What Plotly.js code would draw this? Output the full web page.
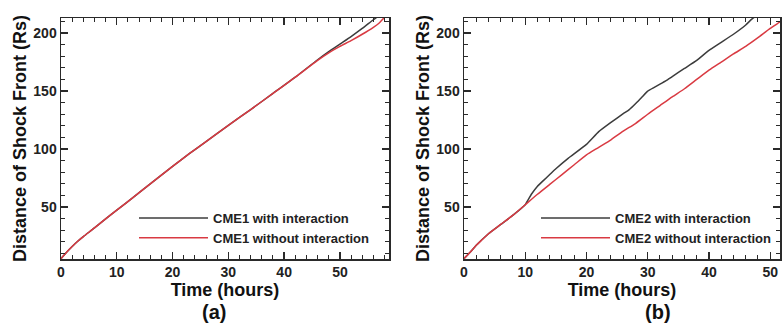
<!DOCTYPE html>
<html>
<head>
<meta charset="utf-8">
<script src="https://cdn.plot.ly/plotly-3.0.1.min.js"></script>
<style>
html, body { margin: 0; padding: 0; background: #fff; }
#chart { width: 783px; height: 327px; }
</style>
</head>
<body>
<div id="chart"></div>
<script>
// ---- Data ----
// Panel (a): CME1
const timeA_with = [0,1,2,3,4,6,8,10,13,16,20,23,26,30,34,38,42,46,48,50,52,54,56,57];
const distA_with = [5.5,11,16,20.5,24.5,32,39.8,47.3,58.5,70,85,96,106.5,120.5,134,148,162,177,184,190.5,197,204,211.5,215];
const timeA_without = [0,1,2,3,4,6,8,10,13,16,20,23,26,30,34,38,42,46,48,50,52,54,56,57,58,59];
const distA_without = [5.5,11,16,20.5,24.5,32,39.8,47.3,58.5,70,85,96,106.5,120.5,134,148,162,176.5,183,188.5,193.5,199,205,208.5,213.5,217];

// Panel (b): CME2
const timeB_with = [0,1,2,4,6,8,10,11,12,13,14,15,17,20,22,24,26,27,28,29,30,31,32,33,34,36,38,40,42,44,46,47,48];
const distB_with = [5.5,11,17,27,35,43,52,61,68,73,78,83,92,104,115,123,130.5,134,139,144.5,150,153,156,159,162.5,169.5,176.5,185,192,199,207,212,216];
const timeB_without = [0,1,2,3,4,6,8,10,12,14,16,18,20,22,24,26,28,30,32,34,36,38,40,42,44,46,48,50,52,53];
const distB_without = [5.5,11,17,22,27,35,43,52,61,69.5,78,86.5,95,101.5,108,115.5,122,130,137.5,145,152,160,168,175,182,188.5,196,204,211,215];

const namesA = ['CME1 with interaction', 'CME1 without interaction'];
const namesB = ['CME2 with interaction', 'CME2 without interaction'];
const xTitle = 'Time (hours)';
const yTitle = 'Distance of Shock Front (Rs)';
const panelLabels = ['(a)', '(b)'];

// ---- Style ----
const W = 783, H = 327;
const FONT = '"Liberation Sans", Arial, Helvetica, sans-serif';
const BLACK = '#3c3c3c';
const RED = '#d93a42';
const AXC = '#2a2a2a';

const traces = [
  {x: timeA_with, y: distA_with, name: namesA[0], type: 'scatter', mode: 'lines',
   line: {color: BLACK, width: 1.5, shape: 'spline', smoothing: 0.6}, xaxis: 'x', yaxis: 'y', legend: 'legend'},
  {x: timeA_without, y: distA_without, name: namesA[1], type: 'scatter', mode: 'lines',
   line: {color: RED, width: 1.5, shape: 'spline', smoothing: 0.6}, xaxis: 'x', yaxis: 'y', legend: 'legend'},
  {x: timeB_with, y: distB_with, name: namesB[0], type: 'scatter', mode: 'lines',
   line: {color: BLACK, width: 1.5, shape: 'spline', smoothing: 0.4}, xaxis: 'x2', yaxis: 'y2', legend: 'legend2'},
  {x: timeB_without, y: distB_without, name: namesB[1], type: 'scatter', mode: 'lines',
   line: {color: RED, width: 1.5, shape: 'spline', smoothing: 0.6}, xaxis: 'x2', yaxis: 'y2', legend: 'legend2'}
];

function px(x) { return x / W; }
function py(y) { return 1 - y / H; }

const tickFont = {family: FONT, size: 14, color: '#222', weight: 'bold'};
const titleFont = {family: FONT, size: 18, color: '#111', weight: 'bold'};

function xAxis(domain, range) {
  return {
    domain: domain, range: range,
    showgrid: false, zeroline: false,
    showline: true, linecolor: AXC, linewidth: 1.5, mirror: 'allticks',
    ticks: 'inside', ticklen: 7, tickwidth: 1.3, tickcolor: AXC,
    tick0: 0, dtick: 10,
    minor: {ticks: 'inside', ticklen: 4, tickwidth: 1, tickcolor: AXC, dtick: 2, tick0: 0},
    tickfont: tickFont,
    title: {text: xTitle, font: titleFont, standoff: 1},
    fixedrange: true
  };
}
function yAxis(domain, range) {
  return {
    domain: domain, range: range,
    showgrid: false, zeroline: false,
    showline: true, linecolor: AXC, linewidth: 1.5, mirror: 'allticks',
    ticks: 'inside', ticklen: 7, tickwidth: 1.3, tickcolor: AXC,
    tick0: 0, dtick: 50,
    minor: {ticks: 'inside', ticklen: 4, tickwidth: 1, tickcolor: AXC, dtick: 10, tick0: 0},
    tickfont: tickFont,
    title: {text: yTitle, font: titleFont, standoff: 2},
    fixedrange: true
  };
}

const xa = xAxis([px(61), px(389)], [0, 58.8]); xa.anchor = 'y';
const ya = yAxis([py(259), py(18)], [5.2, 213]); ya.anchor = 'x';
const xb = xAxis([px(464), px(780)], [0, 51.6]); xb.anchor = 'y2';
const yb = yAxis([py(259), py(18)], [5.2, 213]); yb.anchor = 'x2';

const legendFont = {family: FONT, size: 13, color: '#222', weight: 'bold'};

const layout = {
  width: W, height: H,
  margin: {l: 0, r: 0, t: 0, b: 0},
  paper_bgcolor: '#fff', plot_bgcolor: '#fff',
  showlegend: true,
  xaxis: xa, yaxis: ya, xaxis2: xb, yaxis2: yb,
  legend: {x: px(134), y: py(203), xanchor: 'left', yanchor: 'top',
           bgcolor: 'rgba(0,0,0,0)', borderwidth: 0, font: legendFont,
           itemwidth: 69, tracegroupgap: 0},
  legend2: {x: px(536), y: py(203), xanchor: 'left', yanchor: 'top',
           bgcolor: 'rgba(0,0,0,0)', borderwidth: 0, font: legendFont,
           itemwidth: 69, tracegroupgap: 0},
  annotations: [
    {text: panelLabels[0], xref: 'paper', yref: 'paper', x: px(214), y: py(312),
     xanchor: 'center', yanchor: 'middle', showarrow: false,
     font: {family: FONT, size: 20, color: '#111', weight: 'bold'}},
    {text: panelLabels[1], xref: 'paper', yref: 'paper', x: px(658), y: py(312),
     xanchor: 'center', yanchor: 'middle', showarrow: false,
     font: {family: FONT, size: 20, color: '#111', weight: 'bold'}}
  ]
};

Plotly.newPlot('chart', traces, layout, {displayModeBar: false, staticPlot: true});
</script>
</body>
</html>
